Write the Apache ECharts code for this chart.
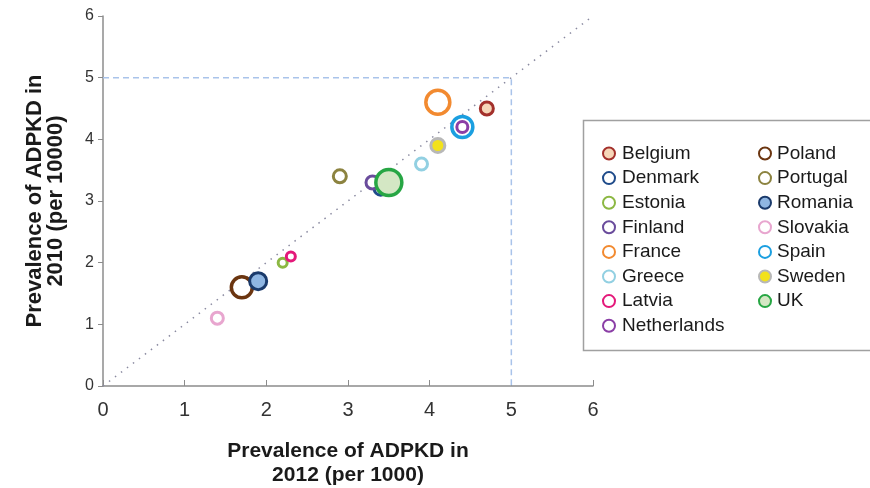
<!DOCTYPE html>
<html><head><meta charset="utf-8">
<script src="https://cdn.jsdelivr.net/npm/echarts@6/dist/echarts.min.js"></script>
<style>html,body{margin:0;padding:0;background:#fff}#c{width:870px;height:488px}</style>
</head><body><div id="c"></div>
<script>
const countries = ['Belgium','Denmark','Estonia','Finland','France','Greece','Latvia','Netherlands','Poland','Portugal','Romania','Slovakia','Spain','Sweden','UK'];
const prev2012 = [4.7, 3.4, 2.2, 3.3, 4.1, 3.9, 2.3, 4.4, 1.7, 2.9, 1.9, 1.4, 4.4, 4.1, 3.5];
const prev2010 = [4.5, 3.2, 2.0, 3.3, 4.6, 3.6, 2.1, 4.2, 1.6, 3.4, 1.7, 1.1, 4.2, 3.9, 3.3];
const bubbleSize = [13, 13, 9, 13, 24, 12, 9, 11, 21, 13, 17, 12, 21, 14, 26];
const xTicks = [0,1,2,3,4,5,6];
const yTicks = [0,1,2,3,4,5,6];

const ring = {
  Belgium:['#a3302b','#f6d6b8'], Denmark:['#1f4b8a','#ffffff'], Estonia:['#8cb843','#ffffff'],
  Finland:['#6a4c9c','#ffffff'], France:['#f28a30','#ffffff'], Greece:['#92d0e2','#ffffff'],
  Latvia:['#e4197a','#ffffff'], Netherlands:['#8b3fa6','#ffffff'], Poland:['#6b3510','#ffffff'],
  Portugal:['#8c8340','#ffffff'], Romania:['#1a3a6b','#8fb6e2'], Slovakia:['#e8a6cf','#ffffff'],
  Spain:['#1b9fe0','#ffffff'], Sweden:['#b8b8b8','#f2e21c'], UK:['#27a644','#d4e7c4']
};
const font = 'Liberation Sans, Arial, sans-serif';

const series = countries.map((c,i)=>({
  name:c, type:'scatter', z: c==='Netherlands'?4:(c==='UK'?5:3),
  symbolSize: bubbleSize[i],
  itemStyle:{color:ring[c][1], borderColor:ring[c][0], borderWidth: bubbleSize[i]>18?3.5:3, opacity:1},
  emphasis:{disabled:true},
  data:[[prev2012[i], prev2010[i]]]
}));
series.unshift({
  type:'line', silent:true, symbol:'none', z:1,
  lineStyle:{color:'#8a8aa0', width:1.5, type:[1.5,6]},
  data:[[xTicks[0],yTicks[0]],[xTicks[6],yTicks[6]]]
});
series.unshift({
  type:'line', silent:true, symbol:'none', z:1,
  lineStyle:{color:'#a9c3ea', width:1.5, type:[6,4]},
  data:[[0,5],[5,5],[5,0]]
});

const legendCommon = {orient:'vertical', itemHeight:12, itemGap:5.6, icon:'circle',
  textStyle:{fontFamily:font, fontSize:19, color:'#1a1a1a'}, selectedMode:false};

const chart = echarts.init(document.getElementById('c'));
chart.setOption({
  animation:false,
  backgroundColor:'#fff',
  grid:{left:103, right:277, top:16, bottom:102, outerBoundsMode:'none', containLabel:false},
  xAxis:{type:'value', min:0, max:6, interval:1,
    axisLine:{lineStyle:{color:'#8c8c8c', width:1.5}},
    axisTick:{show:true, inside:true, length:6, lineStyle:{color:'#8c8c8c'}},
    splitLine:{show:false},
    axisLabel:{fontFamily:font, fontSize:20, color:'#333', margin:14, formatter:v=>String(xTicks[v])},
    name:'Prevalence of ADPKD in\n2012 (per 1000)', nameLocation:'middle', nameGap:53,
    nameTextStyle:{fontFamily:font, fontSize:21, fontWeight:'bold', color:'#1a1a1a', lineHeight:24}
  },
  yAxis:{type:'value', min:0, max:6, interval:1,
    axisLine:{show:true, lineStyle:{color:'#8c8c8c', width:1.5}},
    axisTick:{show:true, length:5, lineStyle:{color:'#8c8c8c'}},
    splitLine:{show:false},
    axisLabel:{fontFamily:font, fontSize:16, color:'#333', margin:9, formatter:v=>String(yTicks[v])},
    name:'Prevalence of ADPKD in\n2010 (per 10000)', nameLocation:'middle', nameGap:37,
    nameTextStyle:{fontFamily:font, fontSize:22, fontWeight:'bold', color:'#1a1a1a', lineHeight:21}
  },
  legend:[
    Object.assign({left:597, top:139, itemWidth:16, data:countries.slice(0,8)}, legendCommon),
    Object.assign({left:753, top:139, itemWidth:14, data:countries.slice(8)}, legendCommon)
  ],
  graphic:[{type:'rect', left:581, top:118, shape:{width:300, height:230},
    style:{fill:'none', stroke:'#a0a0a0', lineWidth:1.5}, z:-1}],
  series:series
});
</script></body></html>
